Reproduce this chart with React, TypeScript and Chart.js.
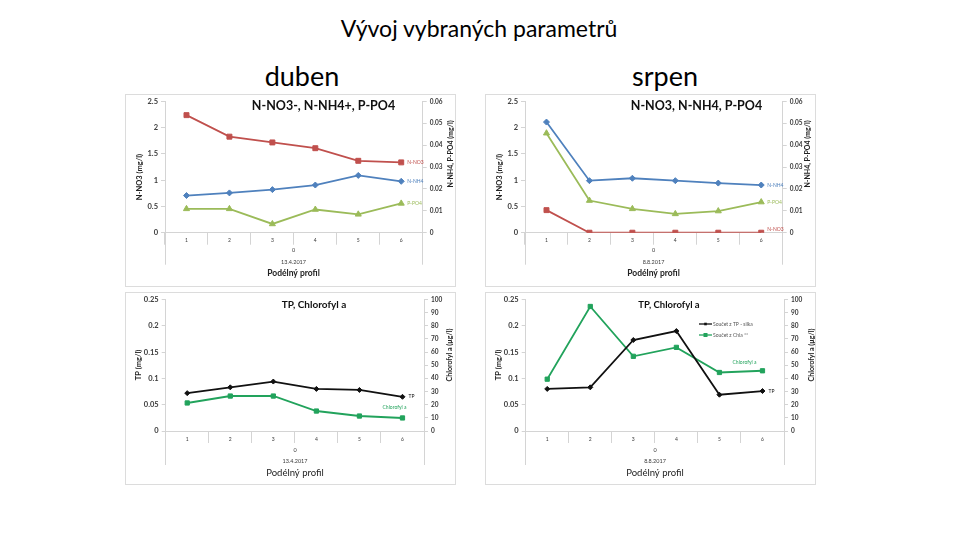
import React, { useEffect, useRef } from 'react';
import { Chart, registerables } from 'chart.js';

Chart.register(...registerables);

// ---------- data ----------
const CATEGORIES = ['1', '2', '3', '4', '5', '6'];

const NO3_DUBEN = [2.24, 1.83, 1.72, 1.61, 1.37, 1.34];
const NH4_DUBEN = [0.017, 0.0182, 0.0197, 0.0218, 0.0262, 0.0235];
const PO4_DUBEN = [0.0109, 0.0109, 0.004, 0.0106, 0.0084, 0.0134];

const NO3_SRPEN = [0.43, 0, 0, 0, 0, 0];
const NH4_SRPEN = [0.0506, 0.0238, 0.0249, 0.0238, 0.0227, 0.0218];
const PO4_SRPEN = [0.0455, 0.0147, 0.0109, 0.0086, 0.0099, 0.014];

const TP_DUBEN = [0.072, 0.083, 0.094, 0.08, 0.078, 0.065];
const CHL_DUBEN = [21.3, 26.6, 26.6, 15.2, 11.4, 9.9];

const TP_SRPEN = [0.08, 0.083, 0.173, 0.19, 0.069, 0.076];
const CHL_SRPEN = [39.4, 94.7, 56.8, 63.6, 44.5, 45.8];

const NO3_TICKS = [0, 0.5, 1, 1.5, 2, 2.5];
const NH4_TICKS = [0, 0.01, 0.02, 0.03, 0.04, 0.05, 0.06];
const TP_TICKS = [0, 0.05, 0.1, 0.15, 0.2, 0.25];
const CHL_TICKS = [0, 10, 20, 30, 40, 50, 60, 70, 80, 90, 100];

// ---------- style ----------
const FONT = 'Lato, "Open Sans", sans-serif';
const GRID = '#d4d4d4';
const TICK = '#3a3a3a';
const RED = '#C0504D';
const BLUE = '#4F81BD';
const OLIVE = '#9BBB59';
const GREEN = '#22A35C';
const BLACK = '#111111';
const W = 331;
const H = 193;

const overlay = {
  id: 'overlay',
  afterDraw(chart: any, _args: any, opts: any) {
    const { ctx, chartArea: ca } = chart;
    ctx.save();
    if (opts.ext) {
      ctx.strokeStyle = GRID;
      ctx.lineWidth = 1;
      [ca.left, ca.right].forEach((x: number) => {
        const px = Math.round(x - 0.5) + 0.5;
        ctx.beginPath();
        ctx.moveTo(px, ca.bottom);
        ctx.lineTo(px, ca.bottom + opts.ext);
        ctx.stroke();
      });
    }
    (opts.texts || []).forEach((t: any) => {
      ctx.save();
      ctx.font = `${t.w || 'normal'} ${t.s}px ${FONT}`;
      ctx.fillStyle = t.c || '#000';
      ctx.textAlign = t.a || 'center';
      ctx.textBaseline = 'middle';
      ctx.translate(t.x, t.y);
      if (t.r) ctx.rotate(-Math.PI / 2);
      ctx.fillText(t.t, 0, 0);
      ctx.restore();
    });
    chart.data.datasets.forEach((ds: any, i: number) => {
      const lab = ds.endLabel;
      if (!lab) return;
      const meta = chart.getDatasetMeta(i);
      const pt = meta.data[meta.data.length - 1];
      ctx.font = `normal ${lab.s || 5}px ${FONT}`;
      ctx.fillStyle = lab.c;
      ctx.textAlign = lab.a || 'left';
      ctx.textBaseline = 'middle';
      ctx.fillText(lab.text, pt.x + lab.dx, pt.y + lab.dy);
    });
    (opts.legend || []).forEach((l: any) => {
      ctx.strokeStyle = l.c;
      ctx.fillStyle = l.c;
      ctx.lineWidth = 1.3;
      ctx.beginPath();
      ctx.moveTo(l.x, l.y);
      ctx.lineTo(l.x + 13, l.y);
      ctx.stroke();
      const r = l.r;
      ctx.fillRect(l.x + 6.5 - r, l.y - r, 2 * r, 2 * r);
      ctx.font = `normal 5px ${FONT}`;
      ctx.fillStyle = '#555';
      ctx.textAlign = 'left';
      ctx.textBaseline = 'middle';
      ctx.fillText(l.text, l.x + 14, l.y);
    });
    ctx.restore();
  },
};

function yAxis(position: string, ticksArr: number[], width: number, size: number) {
  return {
    type: 'linear',
    position,
    min: ticksArr[0],
    max: ticksArr[ticksArr.length - 1],
    afterBuildTicks: (ax: any) => {
      ax.ticks = ticksArr.map((v) => ({ value: v }));
    },
    afterFit: (ax: any) => {
      ax.width = width;
    },
    grid: { drawOnChartArea: false, drawTicks: true, tickLength: 4, color: GRID },
    border: { display: true, color: GRID },
    ticks: {
      font: { family: FONT, size, weight: 'bold' },
      color: TICK,
      padding: 3,
      callback: (v: any) => String(v),
    },
  };
}

function makeConfig(spec: any) {
  return {
    type: 'line',
    data: { labels: CATEGORIES, datasets: spec.datasets },
    options: {
      animation: false,
      responsive: false,
      maintainAspectRatio: false,
      layout: { padding: { top: spec.top, left: 0, right: 0, bottom: 0 } },
      elements: { line: { tension: 0 } },
      plugins: {
        legend: { display: false },
        tooltip: { enabled: false },
        overlay: { ext: spec.ext, texts: spec.texts, legend: spec.legend },
      },
      scales: {
        x: {
          type: 'category',
          offset: true,
          grid: { offset: true, drawOnChartArea: false, tickLength: 12, color: GRID },
          border: { display: true, color: GRID },
          ticks: {
            font: { family: FONT, size: 5 },
            color: TICK,
            padding: -7,
            maxRotation: 0,
            autoSkip: false,
          },
          afterFit: (ax: any) => {
            ax.height = spec.xh;
          },
        },
        y: yAxis('left', spec.leftTicks, spec.lw, 7.5),
        y2: yAxis('right', spec.rightTicks, spec.rw, 6.5),
      },
    },
    plugins: [overlay],
  };
}

function lineDs(label: string, data: number[], axis: string, color: string, style: string, radius: number, endLabel: any) {
  return {
    label,
    data,
    yAxisID: axis,
    borderColor: color,
    backgroundColor: color,
    borderWidth: 1.8,
    pointStyle: style,
    pointRadius: radius,
    pointBorderWidth: 1,
    pointBorderColor: color,
    pointBackgroundColor: color,
    endLabel,
  };
}

function nSpec(no3: number[], nh4: number[], po4: number[], title: string, titleX: number, date: string, rtX: number, labels: any) {
  return {
    top: 6.7,
    lw: 40,
    rw: 33.3,
    xh: 54.3,
    ext: 32,
    leftTicks: NO3_TICKS,
    rightTicks: NH4_TICKS,
    datasets: [
      lineDs('N-NO3', no3, 'y', RED, 'rect', 3.5, { text: 'N-NO3', dx: 6, dy: labels.no3, c: RED }),
      lineDs('N-NH4', nh4, 'y2', BLUE, 'rectRot', 3, { text: 'N-NH4', dx: 6, dy: labels.nh4, c: BLUE }),
      lineDs('P-PO4', po4, 'y2', OLIVE, 'triangle', 3.5, { text: 'P-PO4', dx: 6, dy: labels.po4, c: OLIVE }),
    ],
    texts: [
      { t: title, x: titleX, y: 12, s: 12.5, w: 'bold', c: '#111' },
      { t: 'N-NO3 (mg/l)', x: 15, y: 83, s: 7.5, w: 'bold', c: '#222', r: true },
      { t: 'N-NH4, P-PO4 (mg/l)', x: rtX, y: 60, s: 7, w: 'bold', c: '#222', r: true },
      { t: '0', x: 168.5, y: 156, s: 5.5, c: TICK },
      { t: date, x: 168.5, y: 168.7, s: 5.5, c: TICK },
      { t: 'Podélný profil', x: 168.5, y: 179.7, s: 8.5, w: 'bold', c: '#222' },
    ],
  };
}

function pSpec(tp: number[], chl: number[], title: string, titleX: number, titleS: number, date: string, rtX: number, chlLab: any, legend: any) {
  return {
    top: 7.3,
    lw: 40.7,
    rw: 32,
    xh: 54,
    ext: 34,
    leftTicks: TP_TICKS,
    rightTicks: CHL_TICKS,
    datasets: [
      lineDs('TP', tp, 'y', BLACK, 'rectRot', 2.5, { text: 'TP', dx: 6, dy: 0, c: BLACK }),
      lineDs('Chlorofyl a', chl, 'y2', GREEN, 'rect', 3, { text: 'Chlorofyl a', dx: chlLab.dx, dy: chlLab.dy, c: GREEN, a: 'center' }),
    ],
    legend,
    texts: [
      { t: title, x: titleX, y: 13, s: titleS, w: 'bold', c: '#111' },
      { t: 'TP (mg/l)', x: 13.5, y: 73, s: 7.5, w: 'bold', c: '#222', r: true },
      { t: 'Chlorofyl a (µg/l)', x: rtX, y: 63, s: 7, w: 'bold', c: '#222', r: true },
      { t: '0', x: 170, y: 158, s: 5.5, c: TICK },
      { t: date, x: 170, y: 169.7, s: 5.5, c: TICK },
      { t: 'Podélný profil', x: 170, y: 180.5, s: 9.5, c: '#222' },
    ],
  };
}

const SPEC_TL = nSpec(NO3_DUBEN, NH4_DUBEN, PO4_DUBEN, 'N-NO3-, N-NH4+, P-PO4', 198.5, '13.4.2017', 326, { no3: 0, nh4: 0, po4: 0 });
const SPEC_TR = nSpec(NO3_SRPEN, NH4_SRPEN, PO4_SRPEN, 'N-NO3, N-NH4, P-PO4', 211.5, '8.8.2017', 323, { no3: -3, nh4: 0, po4: 0 });
const SPEC_BL = pSpec(TP_DUBEN, CHL_DUBEN, 'TP, Chlorofyl a', 189, 10, '13.4.2017', 325, { dx: -8, dy: -11 }, []);
const SPEC_BR = pSpec(TP_SRPEN, CHL_SRPEN, 'TP, Chlorofyl a', 184, 9.5, '8.8.2017', 327, { dx: -18, dy: -8 }, [
  { x: 214, y: 32, c: BLACK, r: 1.3, text: 'Součet z TP - silka' },
  { x: 214, y: 43, c: GREEN, r: 2, text: 'Součet z Chla **' },
]);

function Panel({ left, top, spec }: { left: number; top: number; spec: any }) {
  const ref = useRef<HTMLCanvasElement>(null);
  useEffect(() => {
    const chart = new Chart(ref.current as HTMLCanvasElement, makeConfig(spec) as any);
    return () => chart.destroy();
  }, [spec]);
  return (
    <>
      <div
        style={{
          position: 'absolute',
          left,
          top,
          width: W,
          height: H,
          border: '1px solid #dcdcdc',
          boxSizing: 'border-box',
        }}
      />
      <canvas
        ref={ref}
        width={W}
        height={H}
        style={{ position: 'absolute', left, top, width: W, height: H }}
      />
    </>
  );
}

const textStyle = (x: number, y: number, size: number): React.CSSProperties => ({
  position: 'absolute',
  left: x,
  top: y,
  transform: 'translate(-50%, -50%)',
  fontFamily: FONT,
  fontSize: size,
  color: '#000',
  whiteSpace: 'nowrap',
  lineHeight: 1,
});

export default function App() {
  return (
    <div
      style={{
        position: 'fixed',
        left: 0,
        top: 0,
        width: 960,
        height: 540,
        background: '#fff',
        overflow: 'hidden',
      }}
    >
      <div style={textStyle(479, 28, 23)}>Vývoj vybraných parametrů</div>
      <div style={textStyle(302, 75, 27)}>duben</div>
      <div style={textStyle(665, 75, 27)}>srpen</div>
      <Panel left={125} top={94} spec={SPEC_TL} />
      <Panel left={485} top={94} spec={SPEC_TR} />
      <Panel left={125} top={292} spec={SPEC_BL} />
      <Panel left={485} top={292} spec={SPEC_BR} />
    </div>
  );
}
